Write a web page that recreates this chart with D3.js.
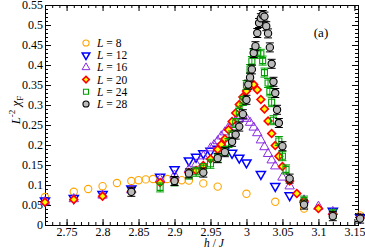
<!DOCTYPE html>
<html>
<head>
<meta charset="utf-8">
<script src="https://cdn.jsdelivr.net/npm/d3@7"></script>
<style>
  body { margin: 0; background: #fff; }
  text { font-family: "Liberation Serif", "Times New Roman", serif; }
</style>
</head>
<body>
<svg width="365" height="249"></svg>
<script>
// tick labels
let xTicks = [2.75, 2.8, 2.85, 2.9, 2.95, 3, 3.05, 3.1, 3.15];
let yTicks = [0, 0.05, 0.1, 0.15, 0.2, 0.25, 0.3, 0.35, 0.4, 0.45, 0.5, 0.55];

// L = 8
let h8 = [2.72, 2.76, 2.78, 2.80, 2.82, 2.84, 2.85, 2.86, 2.87, 2.88, 2.89, 2.90, 2.91, 2.92, 2.94, 2.96, 3.00, 3.04, 3.08, 3.158];
let c8 = [0.070, 0.083, 0.090, 0.097, 0.105, 0.110, 0.112, 0.114, 0.115, 0.116, 0.115, 0.113, 0.112, 0.111, 0.104, 0.096, 0.078, 0.058, 0.041, 0.024];
// L = 12
let h12 = [2.72, 2.76, 2.80, 2.84, 2.88, 2.90, 2.92, 2.93, 2.94, 2.95, 2.96, 2.97, 2.98, 2.99, 3.00, 3.02, 3.04, 3.06, 3.12, 3.158];
let c12 = [0.061, 0.067, 0.077, 0.091, 0.120, 0.139, 0.161, 0.170, 0.179, 0.185, 0.190, 0.188, 0.180, 0.168, 0.156, 0.127, 0.097, 0.074, 0.035, 0.019];
// L = 16
let h16 = [2.72, 2.76, 2.80, 2.84, 2.88, 2.90, 2.92, 2.93, 2.94, 2.95, 2.955, 2.96, 2.965, 2.97, 2.975, 2.98, 2.985, 2.99, 2.995, 3.00, 3.005, 3.01, 3.015, 3.02, 3.025, 3.03, 3.035, 3.04, 3.05, 3.06, 3.08, 3.10, 3.12];
let c16 = [0.058, 0.065, 0.074, 0.087, 0.114, 0.124, 0.139, 0.152, 0.172, 0.192, 0.200, 0.210, 0.222, 0.232, 0.243, 0.252, 0.260, 0.266, 0.271, 0.266, 0.256, 0.244, 0.230, 0.212, 0.195, 0.178, 0.162, 0.147, 0.119, 0.097, 0.062, 0.046, 0.033];
// L = 20
let h20 = [2.72, 2.76, 2.80, 2.84, 2.88, 2.90, 2.92, 2.93, 2.94, 2.95, 2.96, 2.965, 2.97, 2.975, 2.98, 2.985, 2.99, 2.995, 3.00, 3.005, 3.01, 3.015, 3.02, 3.025, 3.03, 3.035, 3.04, 3.045, 3.05, 3.06, 3.07, 3.08, 3.10, 3.12, 3.158];
let c20 = [0.057, 0.064, 0.072, 0.083, 0.106, 0.111, 0.131, 0.136, 0.149, 0.165, 0.189, 0.201, 0.215, 0.238, 0.259, 0.280, 0.301, 0.320, 0.335, 0.347, 0.351, 0.338, 0.314, 0.290, 0.260, 0.229, 0.199, 0.172, 0.146, 0.110, 0.079, 0.060, 0.041, 0.027, 0.018];
// L = 24
let h24 = [2.88, 2.90, 2.92, 2.93, 2.94, 2.95, 2.96, 2.97, 2.975, 2.98, 2.985, 2.99, 2.995, 3.00, 3.005, 3.0075, 3.01, 3.015, 3.02, 3.0225, 3.025, 3.03, 3.0325, 3.035, 3.0375, 3.045, 3.05, 3.055, 3.08, 3.12];
let c24 = [0.094, 0.109, 0.126, 0.133, 0.142, 0.153, 0.168, 0.185, 0.205, 0.224, 0.255, 0.284, 0.310, 0.350, 0.390, 0.410, 0.428, 0.432, 0.428, 0.411, 0.381, 0.355, 0.334, 0.307, 0.262, 0.210, 0.172, 0.139, 0.061, 0.028];
// L = 28
let h28 = [2.84, 2.90, 2.92, 2.94, 2.96, 2.97, 2.98, 2.985, 2.99, 2.995, 3.00, 3.0025, 3.005, 3.0075, 3.01, 3.0125, 3.015, 3.0175, 3.02, 3.0225, 3.025, 3.0275, 3.03, 3.0325, 3.035, 3.0375, 3.04, 3.0425, 3.045, 3.05, 3.06, 3.08, 3.12, 3.158];
let c28 = [0.083, 0.110, 0.129, 0.131, 0.167, 0.182, 0.208, 0.226, 0.246, 0.277, 0.313, 0.351, 0.369, 0.389, 0.430, 0.447, 0.480, 0.505, 0.517, 0.525, 0.521, 0.497, 0.479, 0.444, 0.403, 0.358, 0.330, 0.288, 0.255, 0.197, 0.116, 0.051, 0.022, 0.016];

let labels = ["8", "12", "16", "20", "24", "28"];

function draw() {
    var svg = d3.select('svg');
    var mLeft = 45, mRight = 358, mTop = 5, mBottom = 225;

    var x = d3.scaleLinear().domain([2.72, 3.155]).range([mLeft, mRight]);
    var y = d3.scaleLinear().domain([0, 0.55]).range([mBottom, mTop]);

    function fmt(d) { return String(+d.toFixed(2)); }

    // minor ticks (every 0.01)
    var xMinor = d3.range(273, 316).map(function (d) { return d / 100; });
    var yMinor = d3.range(0, 56).map(function (d) { return d / 100; });

    svg.append('g').attr('transform', 'translate(0,' + mBottom + ')')
        .call(d3.axisBottom(x).tickValues(xMinor).tickSize(-3).tickFormat(''));
    svg.append('g').attr('transform', 'translate(0,' + mTop + ')')
        .call(d3.axisTop(x).tickValues(xMinor).tickSize(-3).tickFormat(''));
    svg.append('g').attr('transform', 'translate(' + mLeft + ',0)')
        .call(d3.axisLeft(y).tickValues(yMinor).tickSize(-3).tickFormat(''));
    svg.append('g').attr('transform', 'translate(' + mRight + ',0)')
        .call(d3.axisRight(y).tickValues(yMinor).tickSize(-3).tickFormat(''));

    // major ticks
    svg.append('g').attr('class', 'xaxis').attr('transform', 'translate(0,' + mBottom + ')')
        .call(d3.axisBottom(x).tickValues(xTicks).tickSize(-6).tickPadding(2).tickFormat(fmt));
    svg.append('g').attr('transform', 'translate(0,' + mTop + ')')
        .call(d3.axisTop(x).tickValues(xTicks).tickSize(-6).tickFormat(''));
    svg.append('g').attr('class', 'yaxis').attr('transform', 'translate(' + mLeft + ',0)')
        .call(d3.axisLeft(y).tickValues(yTicks).tickSize(-6).tickPadding(2).tickFormat(fmt));
    svg.append('g').attr('transform', 'translate(' + mRight + ',0)')
        .call(d3.axisRight(y).tickValues(yTicks).tickSize(-6).tickFormat(''));

    svg.selectAll('.domain').attr('stroke', '#000');
    svg.selectAll('.tick line').attr('stroke', '#000');
    svg.selectAll('.xaxis, .yaxis').attr('font-family', '"Liberation Serif", serif').attr('font-size', 12);
    svg.selectAll('.xaxis text, .yaxis text').attr('fill', '#000');

    // markers
    var styles = [
        { shape: d3.symbolCircle, size: 42, rot: 0, fill: 'none', stroke: '#FFA500', sw: 1.1 },
        { shape: d3.symbolTriangle, size: 36, rot: 180, fill: '#fff', stroke: '#0000FF', sw: 1.5 },
        { shape: d3.symbolTriangle, size: 38, rot: 0, fill: 'none', stroke: '#8A2BE2', sw: 1.0 },
        { shape: d3.symbolSquare, size: 30, rot: 45, fill: '#FFFF00', stroke: '#FF0000', sw: 1.6 },
        { shape: d3.symbolSquare, size: 36, rot: 0, fill: 'none', stroke: '#00A000', sw: 1.1 },
        { shape: d3.symbolCircle, size: 42, rot: 0, fill: '#BBBBBB', stroke: '#000', sw: 1.1 }
    ];

    var series = [[h8, c8], [h12, c12], [h16, c16], [h20, c20], [h24, c24], [h28, c28]];
    var plot = svg.append('g');

    series.forEach(function (s, i) {
        var st = styles[i];
        var pts = s[0].map(function (h, j) { return { h: h, c: s[1][j] }; });

        // little error bars for the two biggest sizes
        if (i >= 4) {
            plot.append('g').attr('stroke', st.stroke).attr('stroke-width', 1)
                .selectAll('path')
                .data(pts)
                .join('path')
                .attr('d', function (d) {
                    var px = x(d.h), py = y(d.c);
                    return 'M' + (px - 4) + ',' + (py - 4.5) + 'h8M' + (px - 4) + ',' + (py + 4.5) + 'h8' +
                        'M' + px + ',' + (py - 4.5) + 'v9';
                });
        }

        plot.append('g')
            .selectAll('path')
            .data(pts)
            .join('path')
            .attr('d', d3.symbol().type(st.shape).size(st.size))
            .attr('transform', function (d) {
                return 'translate(' + x(d.h) + ',' + y(d.c) + ') rotate(' + st.rot + ')';
            })
            .attr('fill', st.fill)
            .attr('stroke', st.stroke)
            .attr('stroke-width', st.sw);
    });

    // legend
    var legend = svg.append('g');
    labels.forEach(function (lab, i) {
        var st = styles[i];
        var ly = 43 + i * 12.2;
        legend.append('path')
            .attr('d', d3.symbol().type(st.shape).size(st.size * 0.7))
            .attr('transform', 'translate(86,' + ly + ') rotate(' + st.rot + ')')
            .attr('fill', st.fill)
            .attr('stroke', st.stroke)
            .attr('stroke-width', st.sw);
        var t = legend.append('text')
            .attr('x', 97)
            .attr('y', ly + 4)
            .attr('font-size', 11.5);
        t.append('tspan').attr('font-style', 'italic').text('L');
        t.append('tspan').text(' = ' + lab);
    });

    // panel label
    svg.append('text').attr('x', 321).attr('y', 37).attr('font-size', 13)
        .attr('text-anchor', 'middle').text('(a)');

    // axis titles
    var xt = svg.append('text').attr('x', 214).attr('y', 246.5).attr('font-size', 11.5)
        .attr('text-anchor', 'middle');
    xt.append('tspan').attr('font-style', 'italic').text('h');
    xt.append('tspan').text(' / ');
    xt.append('tspan').attr('font-style', 'italic').text('J');

    var yt = svg.append('text')
        .attr('transform', 'translate(20,110) rotate(-90)')
        .attr('text-anchor', 'middle')
        .attr('font-size', 13);
    yt.append('tspan').attr('font-style', 'italic').text('L');
    yt.append('tspan').attr('font-size', 9).attr('dy', -5).text('-2');
    yt.append('tspan').attr('dy', 5).text(' ');
    yt.append('tspan').attr('font-style', 'italic').text('χ');
    yt.append('tspan').attr('font-size', 9).attr('dy', 3).text('F');
}

draw();
</script>
</body>
</html>
